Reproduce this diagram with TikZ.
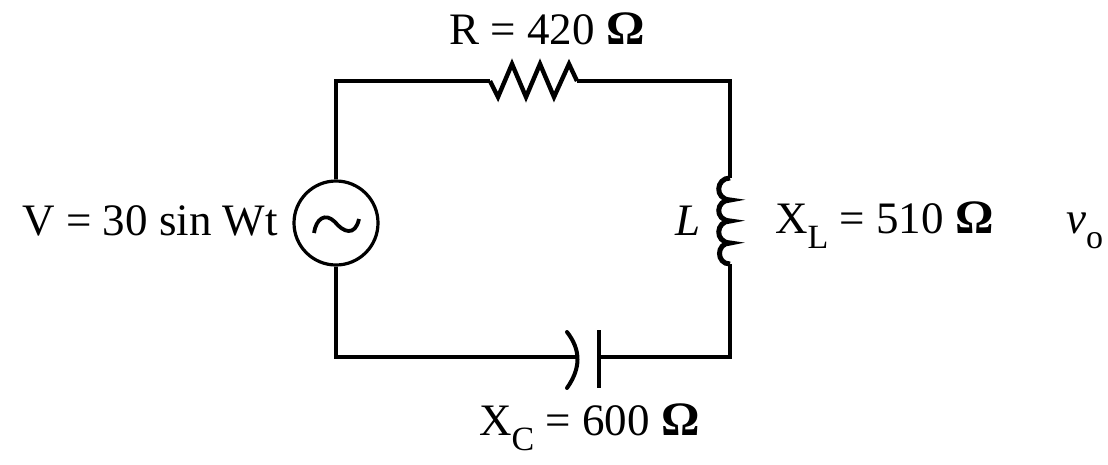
\documentclass[tikz,border=0pt]{standalone}
\usepackage{fontspec}
\setmainfont{Liberation Serif}
\newcommand{\Om}{{\fontsize{48}{48}\selectfont\textbf{Ω}}}
\newcommand{\subtxt}[1]{\raisebox{-15pt}{\fontsize{34}{34}\selectfont #1}}
\tikzset{
  wire/.style={line width=4pt,line cap=butt,line join=miter},
  plate/.style={line width=4pt,line cap=round},
  lbl/.style={inner sep=0pt,font=\fontsize{45}{45}\selectfont,text=black},
}
\begin{document}
\begin{tikzpicture}[x=1pt,y=-1pt]
\useasboundingbox (0,0) rectangle (1108,464);
% source
\node[circle,draw,line width=3.2pt,minimum size=84pt,inner sep=0pt] (src) at (336,223) {};
\draw[line width=3.8pt] (314,233) .. controls (316,219) and (325,212) .. (335,222)
  .. controls (343,232) and (355,237) .. (359,219);
% corners and terminals
\coordinate (tl) at (335,81);
\coordinate (tr) at (730,81);
\coordinate (bl) at (335,357);
\coordinate (br) at (730,357);
\coordinate (ra) at (490,81);
\coordinate (rb) at (577,81);
\coordinate (la) at (730,178);
\coordinate (lb) at (730,264);
\coordinate (ca) at (577,357);
\coordinate (cb) at (599,357);
% wires
\draw[wire] (src.north) |- (ra);
\draw[wire] (rb) -| (la);
\draw[wire] (lb) |- (cb);
\draw[wire] (ca) -| (src.south);
% resistor
\draw[line width=4.4pt,line join=miter] (ra) -- (498,97) -- (512,64) -- (526,97) -- (540,64) -- (554,97) -- (569,64) -- (rb);
% inductor
\draw[line width=5pt] (la) .. controls (716,178) and (714,199) .. (730,200)
  .. controls (716,200) and (714,220) .. (730,221)
  .. controls (716,221) and (714,242) .. (730,243)
  .. controls (716,243) and (716,264) .. (lb);
% capacitor
\draw[plate] (567,332) .. controls (581,350) and (581,368) .. (567,388);
\draw[line width=4pt] (cb |- 0,330) -- (cb |- 0,388);
% labels
\node[lbl] (rl) at (547,29) {R = 420 \Om};
\node[lbl,anchor=east] (vl) at (278,221) {V = 30 sin Wt};
\node[lbl,anchor=base] (ll) at (688,235) {\textit{L}};
\node[lbl,anchor=base west] (xl) at (775,233) {X\subtxt{L} = 510 \Om};
\node[lbl,anchor=base west] (vo) at (1066,233) {\textit{v}\subtxt{o}};
\node[lbl,anchor=base west] (xc) at (479,435) {X\subtxt{C} = 600 \Om};
\end{tikzpicture}
\end{document}
